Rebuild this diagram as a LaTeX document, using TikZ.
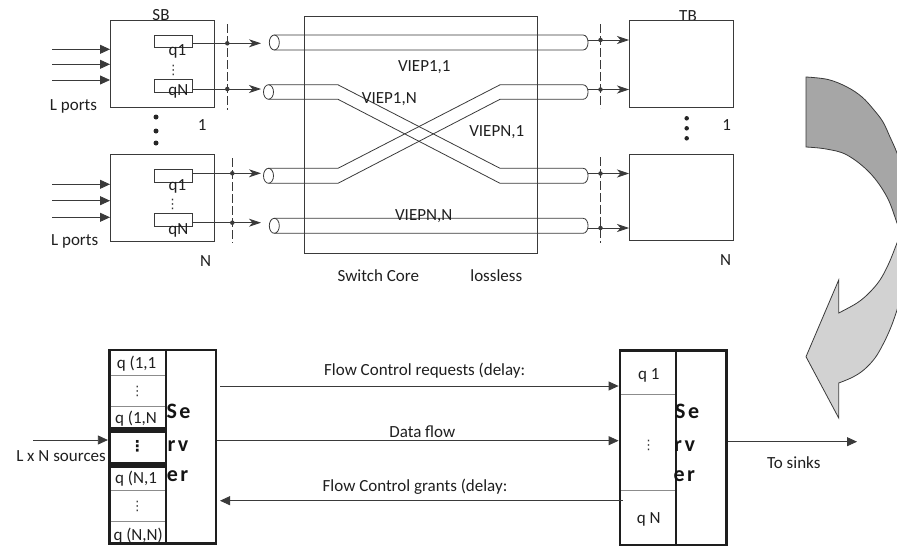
\documentclass[tikz,border=0pt]{standalone}
\usepackage{fontspec}
\setmainfont{Carlito}
\newfontfamily\dvfont{DejaVu Sans}
\usetikzlibrary{arrows.meta,fit}
\definecolor{lc}{HTML}{3A3A3A}
\definecolor{dk}{HTML}{1E1E1E}
\definecolor{arrdark}{HTML}{A6A6A6}
\definecolor{arrlight}{HTML}{D2D2D2}
\definecolor{thincol}{HTML}{8C8C8C}
\begin{document}
\begin{tikzpicture}[x=1pt,y=-1pt,
  lab/.style={font=\fontsize{17}{20}\selectfont, inner sep=0pt, anchor=base, text=black!88},
  srv/.style={font=\fontsize{22}{24}\selectfont\bfseries, inner sep=0pt, anchor=base west, text=black!92},
  vd/.style={font=\dvfont\fontsize{13}{13}\selectfont, inner sep=0pt, text=black!80},
  vdb/.style={font=\dvfont\bfseries\fontsize{15}{15}\selectfont, inner sep=0pt, text=black!92},
  plainbox/.style={draw=lc, line width=0.8pt, fill=white, inner sep=0pt, outer sep=0pt},
  openbox/.style={draw=lc, line width=0.8pt, inner sep=0pt, outer sep=0pt},
  qrect/.style={draw=lc, line width=0.8pt, inner sep=0pt, outer sep=0pt},
  heavybox/.style={draw=dk, line width=2.8pt, inner sep=0pt, outer sep=0pt},
  tube/.style={draw=lc, line width=0.8pt},
  conn/.style={draw=lc, line width=0.8pt},
  dart/.style={-{Stealth[length=12pt,width=8pt,inset=3.5pt]}},
  tri/.style={-{Triangle[length=10pt,width=9pt]}},
  dashln/.style={draw=lc, line width=0.8pt, dash pattern=on 9pt off 3pt},
  jdot/.style={circle, fill=lc, inner sep=0pt, minimum size=4.5pt},
  bdot/.style={circle, fill=black!85, inner sep=0pt, minimum size=5pt},
  thinln/.style={draw=thincol, line width=0.9pt},
]
\useasboundingbox (0,0) rectangle (897,546);
\clip (0,0) rectangle (897,546);

% ---------- top part: labels partly hidden by boxes ----------
\node[lab] (sbl) at (161,20.8) {SB};
\node[lab] (tbl) at (688,21.8) {TB};

\node[plainbox, fit={(110,20) (214,107.3)}] (sb1) {};
\node[plainbox, fit={(110,154) (214,241)}] (sbn) {};
\node[plainbox, fit={(629,20.7) (733.3,107.3)}] (tb1) {};
\node[plainbox, fit={(629,154) (733.3,240.7)}] (tbn) {};
\node[openbox, fit={(304.3,16) (537.3,253.3)}] (core) {};

% queues in SB boxes
\node[qrect, fit={(154.3,35) (192.3,47.7)}] (sq11) {};
\node[qrect, fit={(154.3,79.3) (192.3,92)}] (sq1n) {};
\node[qrect, fit={(154.3,169) (192.3,182.3)}] (sqn1) {};
\node[qrect, fit={(154.3,213.3) (192.3,226.7)}] (sqnn) {};
\node[lab] (lq11) at (177.5,55) {q1};
\node[lab] (lq1n) at (178.3,95) {qN};
\node[lab] (lqn1) at (177.5,190) {q1};
\node[lab] (lqnn) at (178.3,234) {qN};
\node[vd] (vd1) at (173.3,70) {⋮};
\node[vd] (vd2) at (172.5,204) {⋮};

% input ports
\coordinate (ia1) at (52,49.3);
\coordinate (ia2) at (52,64.3);
\coordinate (ia3) at (52,80);
\coordinate (ib1) at (52,184.3);
\coordinate (ib2) at (52,200.7);
\coordinate (ib3) at (52,217.3);
\foreach \c in {ia1,ia2,ia3} \draw[conn,tri] (\c) -- (\c -| sb1.west);
\foreach \c in {ib1,ib2,ib3} \draw[conn,tri] (\c) -- (\c -| sbn.west);
\node[lab] (lp1) at (73.5,110) {L ports};
\node[lab] (lp2) at (74.7,245) {L ports};
\node[lab] (sb1n) at (202.3,130) {1};
\node[lab] (sbnn) at (205.7,266) {N};
\node[lab] (tb1n) at (726.7,130) {1};
\node[lab] (tbnn) at (725.7,265) {N};
\node[bdot] (d1) at (156,117) {};
\node[bdot] (d2) at (156,131) {};
\node[bdot] (d3) at (156,143) {};
\node[bdot, minimum size=4.5pt] (d4) at (686.7,118.3) {};
\node[bdot, minimum size=4.5pt] (d5) at (686.7,128.3) {};
\node[bdot, minimum size=4.5pt] (d6) at (686.7,138.3) {};

% dashed lines
\coordinate (da1) at (227.3,24); \coordinate (da2) at (227.3,110);
\coordinate (db1) at (232.3,158); \coordinate (db2) at (232.3,243.3);
\coordinate (dc1) at (600.5,24); \coordinate (dc2) at (600.5,108);
\coordinate (dd1) at (600.5,157); \coordinate (dd2) at (600.5,243);
\draw[dashln] (da1) -- (da2);
\draw[dashln] (db1) -- (db2);
\draw[dashln] (dc1) -- (dc2);
\draw[dashln] (dd1) -- (dd2);

% connectors SB -> tubes
\coordinate (t1) at (261,43.3);
\coordinate (t2) at (261,89);
\coordinate (t3) at (261,173.3);
\coordinate (t4) at (261,222.7);
\draw[conn,dart] (sq11.east |- t1) -- (t1);
\draw[conn,dart] (sq1n.east |- t2) -- (t2);
\draw[conn,dart] (sqn1.east |- t3) -- (t3);
\draw[conn,dart] (sqnn.east |- t4) -- (t4);
\node[jdot] (j1) at (da1 |- t1) {};
\node[jdot] (j2) at (da1 |- t2) {};
\node[jdot] (j3) at (db1 |- t3) {};
\node[jdot] (j4) at (db1 |- t4) {};

% tubes
\draw[tube] (274.3,35) -- (583,35) .. controls (589.7,35) and (589.7,50) .. (583,50) -- (274.3,50);
\draw[tube] (274.3,42.5) ellipse[x radius=5, y radius=7.5];
\draw[tube] (268.5,84.8) -- (338,84.8) -- (500,168.3) -- (583,168.3) .. controls (589.7,168.3) and (589.7,183.3) .. (583,183.3) -- (500,183.3) -- (338,99.3) -- (268.5,99.3);
\draw[tube] (268.5,92) ellipse[x radius=5, y radius=7.25];
\draw[tube] (268.5,168.3) -- (338,168.3) -- (500,84.8) -- (583,84.8) .. controls (589.7,84.8) and (589.7,99.3) .. (583,99.3) -- (500,99.3) -- (338,183.3) -- (268.5,183.3);
\draw[tube] (268.5,175.8) ellipse[x radius=5, y radius=7.5];
\draw[tube] (274.3,218.3) -- (583,218.3) .. controls (589.7,218.3) and (589.7,233.3) .. (583,233.3) -- (274.3,233.3);
\draw[tube] (274.3,225.8) ellipse[x radius=5, y radius=7.5];

% tubes -> TB
\coordinate (r1) at (587.5,40);
\coordinate (r2) at (587.5,89.5);
\coordinate (r3) at (587.5,173.5);
\coordinate (r4) at (587.5,228);
\draw[conn,dart] (r1) -- (r1 -| tb1.west);
\draw[conn,dart] (r2) -- (r2 -| tb1.west);
\draw[conn,dart] (r3) -- (r3 -| tbn.west);
\draw[conn,dart] (r4) -- (r4 -| tbn.west);
\node[jdot] (k1) at (dc1 |- r1) {};
\node[jdot] (k2) at (dc1 |- r2) {};
\node[jdot] (k3) at (dc1 |- r3) {};
\node[jdot] (k4) at (dc1 |- r4) {};

% core labels
\node[lab] (v11) at (424.3,71.7) {VIEP1,1};
\node[lab] (v1n) at (389.3,103.3) {VIEP1,N};
\node[lab] (vn1) at (496.7,136) {VIEPN,1};
\node[lab] (vnn) at (423.7,220.7) {VIEPN,N};
\node[lab] (swc) at (378.3,281.7) {Switch Core};
\node[lab] (lsl) at (496.3,281.7) {lossless};

% ---------- curved arrow ----------
\path[draw=lc, line width=0.8pt, fill=arrdark]
  plot[smooth, tension=0.6] coordinates {(806,77) (828,79.5) (847,87) (862,97) (874,110) (883,122) (890,137) (897,153) (903,172)}
  -- plot[smooth, tension=0.6] coordinates {(901,234) (897,223) (887,197) (870,173) (847,155) (826,149) (806,147)}
  -- cycle;
\path[draw=lc, line width=0.8pt, fill=arrlight]
  plot[smooth, tension=0.6] coordinates {(901,233) (897,243) (889,263) (880,280) (869,293) (857,303) (838.7,313)}
  -- (838.7,280) -- (806,356.7) -- (838.7,418)
  -- plot[smooth, tension=0.6] coordinates {(838.7,383) (852,377.5) (863.7,370) (875,358) (883.7,343) (891,327) (897,310) (901,296)}
  -- cycle;

% ---------- bottom part ----------
\node[heavybox, fit={(109.3,350) (216,543.3)}] (lsrv) {};
\node[heavybox, fit={(109.3,350) (166,428.3)}] (lgq1) {};
\node[heavybox, fit={(109.3,431.5) (166,463.5)}] (lgqm) {};
\node[heavybox, fit={(109.3,466.5) (166,543.3)}] (lgqn) {};
\draw[thinln] (110.7,375) -- (164.6,375);
\draw[thinln] (110.7,406.7) -- (164.6,406.7);
\draw[thinln] (110.7,490) -- (164.6,490);
\draw[thinln] (110.7,521.7) -- (164.6,521.7);
\node[lab, anchor=base west] (q11) at (116.7,368.3) {q (1,1};
\node[vd] (q1d) at (137.3,391.7) {⋮};
\node[lab, anchor=base west] (q1n) at (115,423.3) {q (1,N};
\node[vdb] (qmd) at (137.3,446.7) {⋮};
\node[lab, anchor=base west] (qn1) at (115,483.3) {q (N,1};
\node[vd] (qnd) at (137.3,506.7) {⋮};
\node[lab, anchor=base west] (qnn) at (113.3,540) {q (N,N)};
\node[srv] (ls1) at (166.3,418.3) {S\kern2.5pt e};
\node[srv] (ls2) at (167.3,451.7) {r\kern2.5pt v};
\node[srv] (ls3) at (166.7,481.7) {e\kern2.5pt r};

\node[heavybox, fit={(620,350.7) (726.7,545)}] (rsrv) {};
\node[heavybox, fit={(620,350.7) (676,545)}] (rq) {};
\draw[thinln] (621.4,394) -- (674.6,394);
\draw[thinln] (621.4,490) -- (674.6,490);
\node[lab] (rq1) at (648.7,379.3) {q 1};
\node[vd] (rqd) at (648.5,445) {⋮};
\node[lab] (rqn) at (648.7,523.3) {q N};
\node[srv] (rs1) at (675,418.3) {S\kern2.5pt e};
\node[srv] (rs2) at (674,451.7) {r\kern2.5pt v};
\node[srv] (rs3) at (673.3,481.7) {e\kern2.5pt r};

% bottom arrows
\coordinate (rqA) at (220,386);
\coordinate (dfA) at (217.4,440.7);
\coordinate (grA) at (622.7,500.7);
\coordinate (srcA) at (33,440);
\coordinate (outB) at (857,441.7);
\draw[conn,tri] (rqA) -- ([xshift=-1.4pt]rqA -| rsrv.west);
\draw[conn,tri] (dfA) -- ([xshift=-1.4pt]dfA -| rsrv.west);
\draw[conn,tri] (grA) -- ([xshift=4pt]grA -| lsrv.east);
\draw[conn,tri] (srcA) -- ([xshift=-1.4pt]srcA -| lsrv.west);
\draw[conn,tri] ([xshift=1.4pt]outB -| rsrv.east) -- (outB);

\node[lab] (rql) at (424.7,375.7) {Flow Control requests (delay:};
\node[lab] (dfl) at (422.3,437.3) {Data flow};
\node[lab] (grl) at (415,491.7) {Flow Control grants (delay:};
\node[lab, anchor=base east] (srcl) at (106,461.7) {L x N sources};
\node[lab] (snk) at (793.8,468.3) {To sinks};
\end{tikzpicture}
\end{document}
